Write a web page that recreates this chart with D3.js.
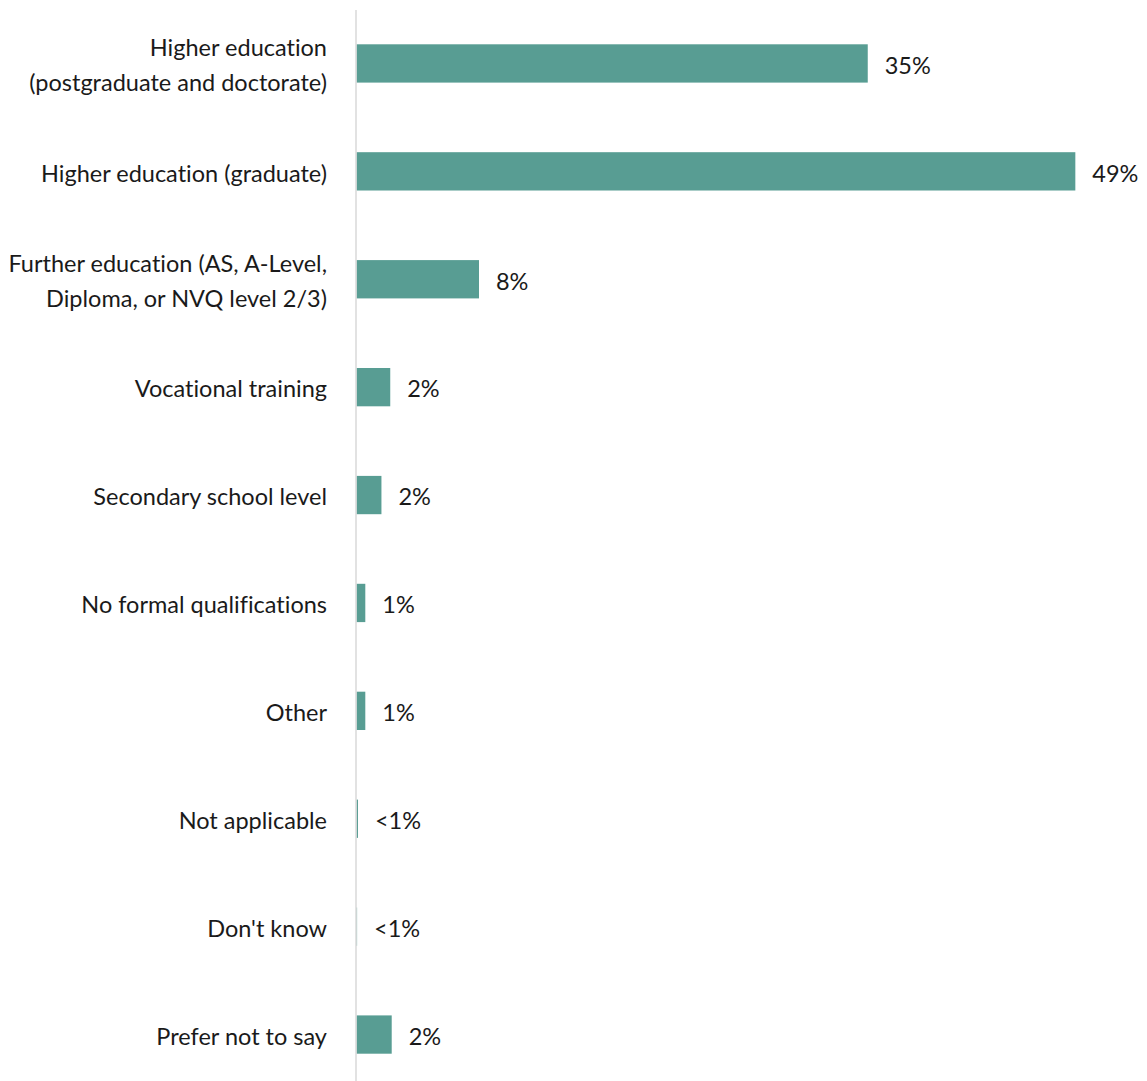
<!DOCTYPE html>
<html>
<head>
<meta charset="utf-8">
<script src="https://cdn.jsdelivr.net/npm/d3@7"></script>
<style>
  html, body { margin: 0; padding: 0; background: #ffffff; }
  svg { display: block; }
  text { font-family: "Lato", "Open Sans", sans-serif; fill: #1a1a1a; font-variant-ligatures: none; }
</style>
</head>
<body>
<svg id="chart" width="1147" height="1081"></svg>
<script>
// Highest level of education – share of respondents
const categories = [
  ["Higher education", "(postgraduate and doctorate)"],
  ["Higher education (graduate)"],
  ["Further education (AS, A-Level,", "Diploma, or NVQ level 2/3)"],
  ["Vocational training"],
  ["Secondary school level"],
  ["No formal qualifications"],
  ["Other"],
  ["Not applicable"],
  ["Don't know"],
  ["Prefer not to say"]
];
const values = [34.85, 49.0, 8.35, 2.3, 1.7, 0.6, 0.6, 0.1, 0.04, 2.4];
const valueLabels = ["35%", "49%", "8%", "2%", "2%", "1%", "1%", "<1%", "<1%", "2%"];

const W = 1147, H = 1081;
const margin = { top: 10, left: 356.5, right: 0, bottom: 0 };
const svg = d3.select("#chart");

const x = d3.scaleLinear().domain([0, 50]).range([margin.left, margin.left + 733.5]);
const y = d3.scaleBand()
  .domain(d3.range(categories.length))
  .range([9.5, 9.5 + 107.9 * categories.length])
  .paddingInner(0.645)
  .paddingOuter(0.3225);

const fontSize = 23.5;
const baselineShift = "0.44em";

const rows = svg.append("g").selectAll("g")
  .data(values.map((v, i) => ({ v, i, label: categories[i], text: valueLabels[i] })))
  .join("g");

rows.append("rect")
  .attr("x", x(0))
  .attr("y", d => y(d.i))
  .attr("width", d => x(d.v) - x(0))
  .attr("height", y.bandwidth())
  .attr("fill", "#589d93");

rows.append("text")
  .attr("x", d => x(d.v) + 17)
  .attr("y", d => y(d.i) + y.bandwidth() / 2)
  .attr("dy", baselineShift)
  .attr("font-size", fontSize)
  .text(d => d.text);

// Category labels, one or two lines, right-aligned against the axis
const lineGap = 35;
rows.append("text")
  .attr("text-anchor", "end")
  .attr("font-size", fontSize)
  .each(function (d) {
    const cy = y(d.i) + y.bandwidth() / 2;
    const n = d.label.length;
    d3.select(this).selectAll("tspan")
      .data(d.label)
      .join("tspan")
      .attr("x", 327)
      .attr("y", (t, k) => cy + (k - (n - 1) / 2) * lineGap)
      .attr("dy", baselineShift)
      .text(t => t);
  });

// Vertical baseline axis
svg.append("line")
  .attr("x1", x(0) - 0.5).attr("x2", x(0) - 0.5)
  .attr("y1", 10).attr("y2", H)
  .attr("stroke", "#d9d9d9")
  .attr("stroke-width", 1.5);
</script>
</body>
</html>
